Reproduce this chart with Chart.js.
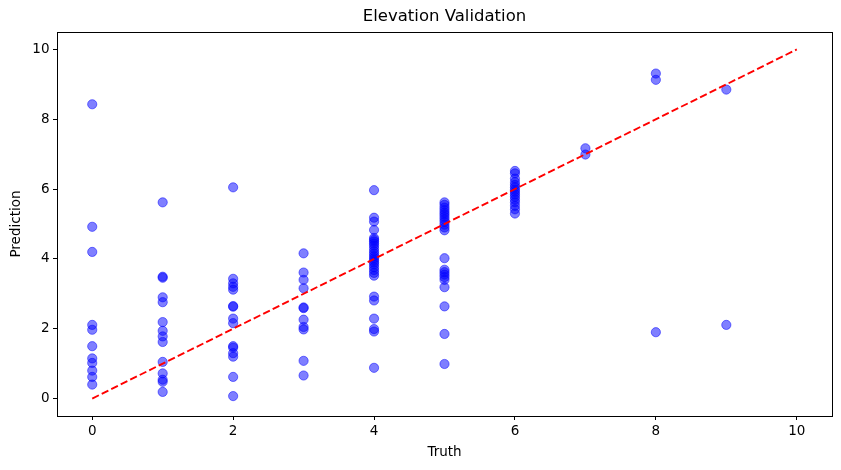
<!DOCTYPE html>
<html>
<head>
<meta charset="utf-8">
<script src="https://cdn.jsdelivr.net/npm/chart.js@4/dist/chart.umd.min.js"></script>
<style>
  html, body { margin: 0; padding: 0; background: #fff; }
</style>
</head>
<body>
<canvas id="validationChart" width="841" height="470"></canvas>
<script>
// truth classes and the predictions read for each one
let truthLevels = [0, 1, 2, 3, 4, 5, 6, 7, 8, 9];
let pred0 = [8.43, 4.92, 4.2, 2.11, 1.97, 1.5, 1.15, 1.02, 0.8, 0.62, 0.4];
let pred1 = [5.62, 3.49, 3.46, 2.9, 2.76, 2.19, 1.94, 1.78, 1.62, 1.05, 0.72, 0.54, 0.48, 0.19];
let pred2 = [6.05, 3.43, 3.3, 3.2, 3.12, 2.65, 2.63, 2.29, 2.16, 1.5, 1.46, 1.3, 1.2, 0.62, 0.07];
let pred3 = [4.16, 3.61, 3.4, 3.16, 2.61, 2.59, 2.26, 2.05, 1.98, 1.08, 0.66];
let pred4 = [5.97, 5.18, 5.07, 4.83, 4.6, 4.55, 4.5, 4.44, 4.38, 4.3, 4.22, 4.15, 4.08, 4.02, 3.96,
             3.9, 3.84, 3.76, 3.68, 3.6, 3.52, 2.92, 2.81, 2.29, 1.99, 1.92, 0.88];
let pred5 = [5.62, 5.55, 5.47, 5.4, 5.33, 5.27, 5.2, 5.13, 5.06, 4.98, 4.9, 4.82, 4.02, 3.69, 3.62,
             3.55, 3.48, 3.4, 3.19, 2.64, 1.85, 0.99];
let pred6 = [6.52, 6.45, 6.3, 6.2, 6.12, 6.05, 5.98, 5.92, 5.85, 5.78, 5.7, 5.62, 5.52, 5.42, 5.3];
let pred7 = [7.17, 6.99];
let pred8 = [9.31, 9.13, 1.9];
let pred9 = [8.85, 2.11];
let predictionsByTruth = [pred0, pred1, pred2, pred3, pred4, pred5, pred6, pred7, pred8, pred9];

// perfect-prediction reference line
let refLine = [0, 10];

let xTickLabels = ['0', '2', '4', '6', '8', '10'];
let yTickLabels = ['0', '2', '4', '6', '8', '10'];

// build scatter points
let points = [];
for (let i = 0; i < truthLevels.length; i++) {
    predictionsByTruth[i].forEach(function (p) {
        points.push({ x: truthLevels[i], y: p });
    });
}

let font = 'DejaVu Sans';

// matplotlib-like frame round the plot area
let framePlugin = {
    id: 'frame',
    afterLayout: function (chart) {
        // centre the title over the plot area, not the whole canvas
        if (chart.titleBlock) {
            chart.titleBlock.left = chart.chartArea.left;
            chart.titleBlock.right = chart.chartArea.right;
        }
    },
    afterDraw: function (chart) {
        let a = chart.chartArea;
        let ctx = chart.ctx;
        ctx.save();
        ctx.strokeStyle = '#000';
        ctx.lineWidth = 1;
        ctx.strokeRect(Math.round(a.left) + 0.5, Math.round(a.top) + 0.5,
            Math.round(a.right - a.left), Math.round(a.bottom - a.top));
        ctx.restore();
    }
};

let ctx = document.getElementById('validationChart').getContext('2d');
let chart = new Chart(ctx, {
    type: 'scatter',
    data: {
        datasets: [{
            data: points,
            backgroundColor: 'rgba(0,0,255,0.5)',
            borderColor: 'rgba(0,0,255,0.5)',
            borderWidth: 1,
            pointRadius: 4.6,
            order: 2
        }, {
            type: 'line',
            data: [{ x: refLine[0], y: refLine[0] }, { x: refLine[1], y: refLine[1] }],
            borderColor: 'red',
            borderWidth: 1.9,
            borderDash: [7.4, 3.2],
            pointRadius: 0,
            fill: false,
            order: 1
        }]
    },
    plugins: [framePlugin],
    options: {
        responsive: false,
        animation: false,
        events: [],
        layout: { padding: { left: 0, right: 9, top: 0, bottom: 0 } },
        plugins: {
            legend: { display: false },
            tooltip: { enabled: false },
            title: {
                display: true,
                text: 'Elevation Validation',
                color: '#000',
                font: { family: font, size: 16.5, weight: 'normal', lineHeight: 1.2 },
                padding: { top: 7, bottom: 5.2 }
            }
        },
        scales: {
            x: {
                type: 'linear',
                min: -0.5,
                max: 10.5,
                afterBuildTicks: function (scale) {
                    scale.ticks = xTickLabels.map(function (t) { return { value: Number(t) }; });
                },
                afterFit: function (scale) { scale.height = 54; },
                ticks: {
                    color: '#000',
                    font: { family: font, size: 13.5 },
                    padding: 3,
                    maxRotation: 0,
                    callback: function (v) { return String(v); }
                },
                grid: { drawOnChartArea: false, drawTicks: true, tickLength: 4, color: '#000' },
                border: { display: true, color: '#000' },
                title: {
                    display: true,
                    text: 'Truth',
                    color: '#000',
                    font: { family: font, size: 13.5 },
                    padding: { top: 3, bottom: 9.6 }
                }
            },
            y: {
                type: 'linear',
                min: -0.5,
                max: 10.5,
                afterBuildTicks: function (scale) {
                    scale.ticks = yTickLabels.map(function (t) { return { value: Number(t) }; });
                },
                afterFit: function (scale) { scale.width = 57; },
                ticks: {
                    color: '#000',
                    font: { family: font, size: 13.5 },
                    padding: 3.5,
                    callback: function (v) { return String(v); }
                },
                grid: { drawOnChartArea: false, drawTicks: true, tickLength: 4, color: '#000' },
                border: { display: true, color: '#000' },
                title: {
                    display: true,
                    text: 'Prediction',
                    color: '#000',
                    font: { family: font, size: 13.5 },
                    padding: { top: 8.6, bottom: 0 }
                }
            }
        }
    }
});
</script>
</body>
</html>
